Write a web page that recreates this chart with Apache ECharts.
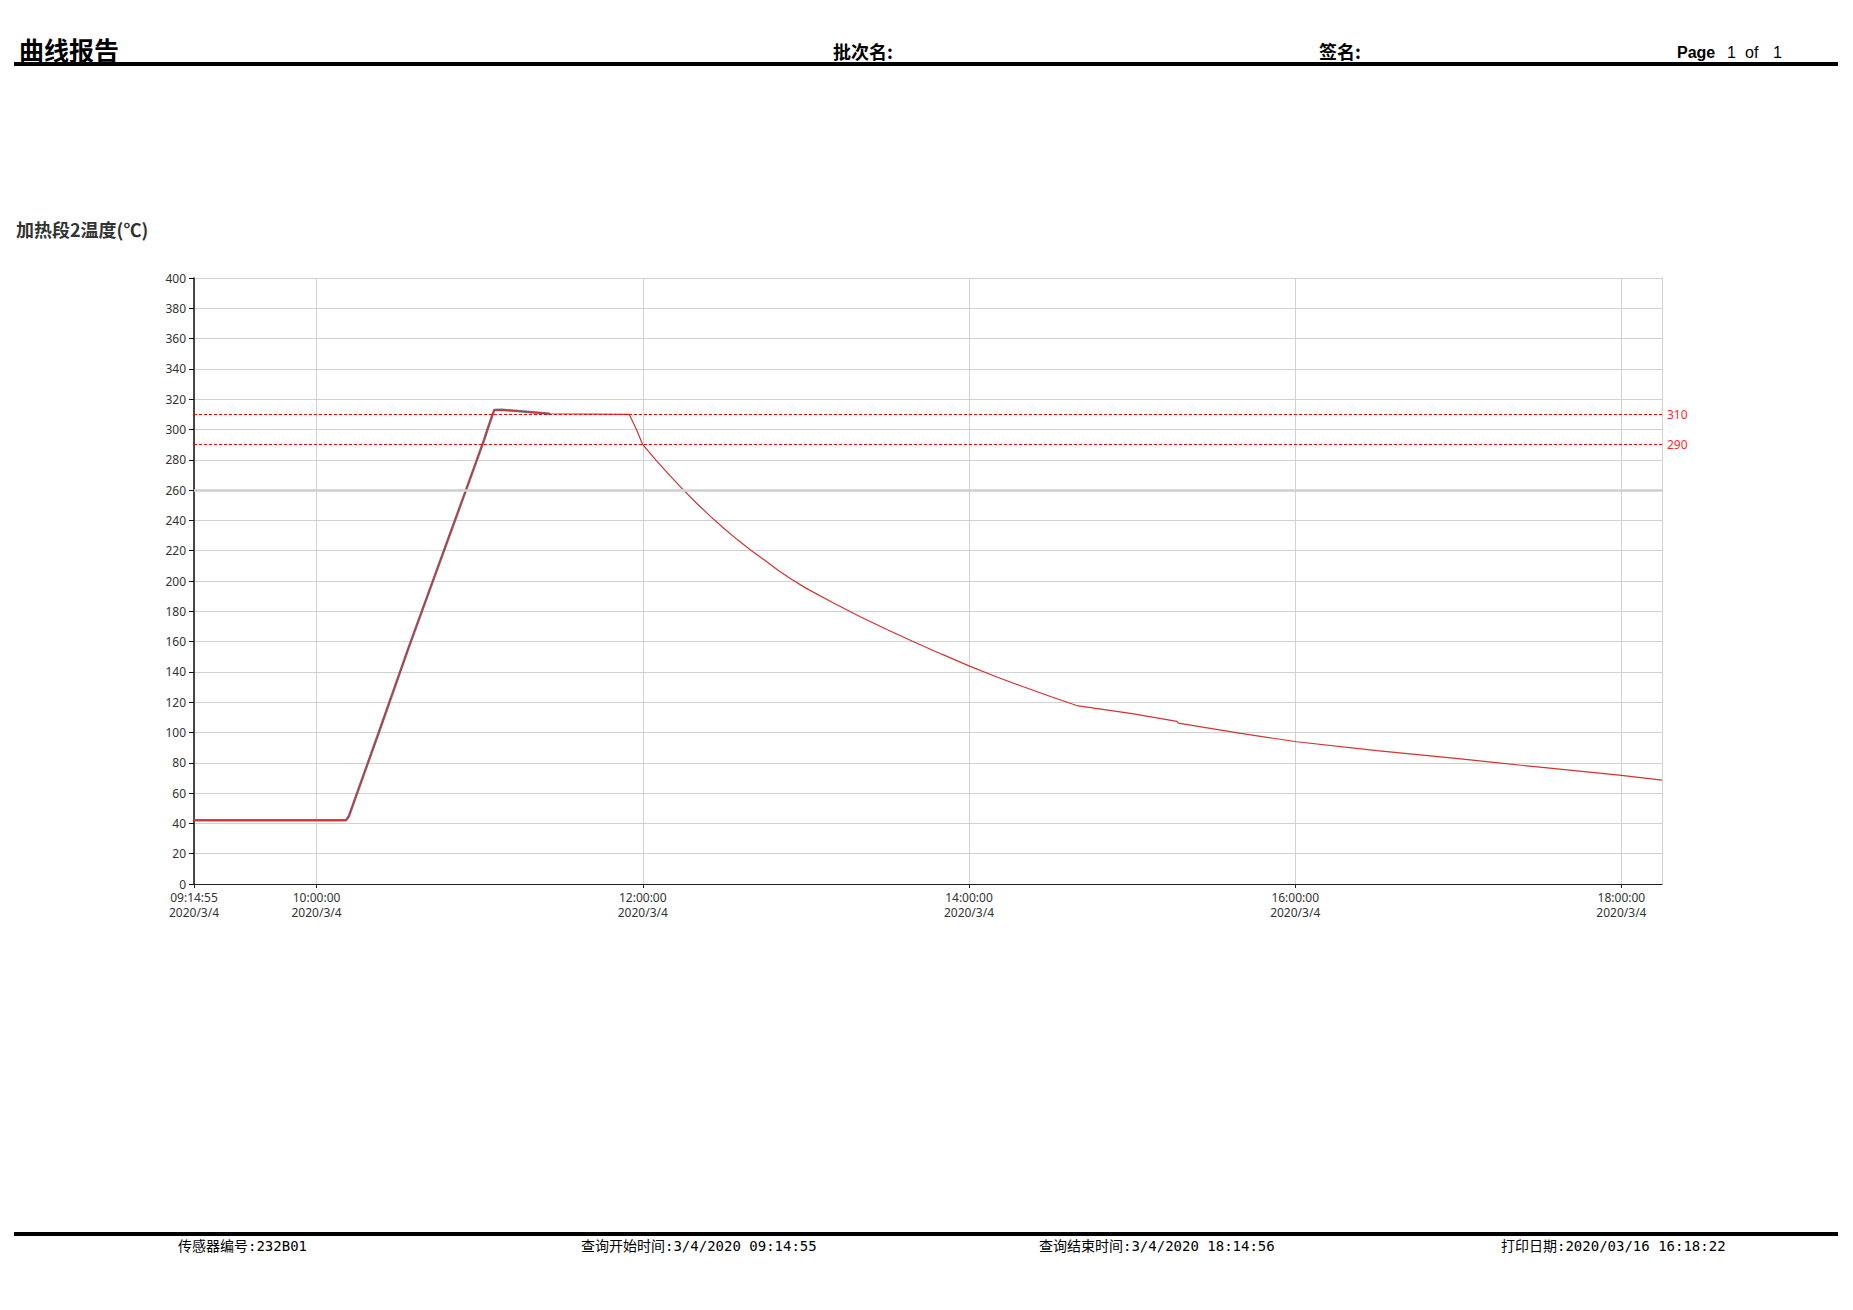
<!DOCTYPE html>
<html><head><meta charset="utf-8">
<script src="https://cdn.jsdelivr.net/npm/echarts@6.0.0/dist/echarts.min.js"></script>
<style>html,body{margin:0;padding:0;background:#fff;}#chart{width:1853px;height:1310px;}</style>
</head><body><div id="chart"></div>
<script>
const chartTitle = '加热段2温度(℃)';
const dateLabel = '2020/3/4';
const axisStart = '09:14:55';
const axisEnd = '18:14:56';
const tickTimes = ['09:14:55', '10:00:00', '12:00:00', '14:00:00', '16:00:00', '18:00:00'];
const yMin = 0, yMax = 400, yStep = 20;
const limitValues = [310, 290];
const emphasisGrid = [260];

const sensorTimes = ['09:14:55','10:10:48','10:11:50','10:22:53','10:33:58','10:54:52','11:01:38','11:02:52','11:05:20','11:08:00','11:15:00','11:25:50','11:55:00','11:57:40','12:00:00','12:05:00','12:10:00','12:15:00','12:20:00','12:25:00','12:30:00','12:35:00','12:40:00','12:45:00','12:50:00','12:55:00','13:00:00','13:10:00','13:20:00','13:30:00','13:40:00','13:50:00','14:00:00','14:10:00','14:20:00','14:30:00','14:39:36','15:00:00','15:16:30','15:17:00','15:40:00','16:00:33','16:30:00','17:00:00','17:30:00','18:00:00','18:14:56'];
const sensorValues = [42,42,44.5,100,156.5,259.5,293.2,300,312.8,313,312,310.4,310,300,290,279.5,269.5,260,251,242.5,234.5,227,220,213.5,206.8,200.8,195.3,185.6,176.4,167.8,159.6,151.7,144,136.8,130.2,123.8,117.8,112.5,107.3,106.2,99.4,93.9,88,82.7,77.1,71.7,68.6];

const greyTimes = ['09:14:55','10:10:48','10:11:50','10:22:53','10:33:58','10:54:52','11:01:38','11:02:52','11:05:20','11:08:00','11:15:00','11:25:50'];
const greyValues = [42,42,44.5,100,156.5,259.5,293.2,300,312.8,313,312,310.4];

const headerTitle = '曲线报告';
const headerBatch = '批次名:';
const headerSign = '签名:';
const pageWord = 'Page';
const pageParts = ['1', 'of', '1'];
const footerTexts = ['传感器编号:232B01', '查询开始时间:3/4/2020 09:14:55', '查询结束时间:3/4/2020 18:14:56', '打印日期:2020/03/16 16:18:22'];

function ts(t) { const p = t.split(':').map(Number); return (p[0] * 3600 + p[1] * 60 + p[2]) * 1000; }
function pad(n) { return (n < 10 ? '0' : '') + n; }
function fmt(v) {
  const s = Math.round(v / 1000);
  return pad(Math.floor(s / 3600)) + ':' + pad(Math.floor(s / 60) % 60) + ':' + pad(s % 60) + '\n' + dateLabel;
}

const tickVals = tickTimes.map(ts);
const sensorData = sensorTimes.map((t, i) => [ts(t), sensorValues[i]]);
const greyData = greyTimes.map((t, i) => [ts(t), greyValues[i]]);

const CJK = '"Noto Sans CJK SC", "Noto Sans", sans-serif';
const MONO = '"DejaVu Sans Mono", "Noto Sans CJK SC", monospace';
const footerX = [178, 581, 1039, 1501];
const pageX = [1727, 1745, 1773];

const chart = echarts.init(document.getElementById('chart'), null, { renderer: 'svg' });
chart.setOption({
  animation: false,
  backgroundColor: '#fff',
  title: {
    text: chartTitle, left: 11, top: 215,
    textStyle: { fontSize: 18, fontWeight: 'bold', color: '#333', fontFamily: CJK }
  },
  grid: { left: 194, top: 278, width: 1468, height: 606, containLabel: false, outerBoundsMode: 'none' },
  xAxis: {
    type: 'value', min: ts(axisStart), max: ts(axisEnd),
    axisLine: { show: true, lineStyle: { color: '#222', width: 1 } },
    axisTick: { show: true, customValues: tickVals, length: 4, lineStyle: { color: '#222' } },
    axisLabel: { customValues: tickVals, formatter: fmt, color: '#333', fontSize: 12, lineHeight: 15, margin: 6, fontFamily: '"Noto Sans", sans-serif', hideOverlap: false, showMinLabel: true, showMaxLabel: true },
    splitLine: { show: true, lineStyle: { color: '#d2d2d2', width: 1 } }
  },
  yAxis: [{
    type: 'value', min: yMin, max: yMax, interval: yStep,
    axisLine: { show: true, lineStyle: { color: '#111', width: 1.5 } },
    axisTick: { show: true, length: 5, lineStyle: { color: '#111' } },
    axisLabel: { color: '#333', fontSize: 12, lineHeight: 12, margin: 8, fontFamily: '"Noto Sans", sans-serif' },
    splitLine: { show: true, lineStyle: { color: '#d2d2d2', width: 1 } }
  }, {
    type: 'value', min: yMin, max: yMax, position: 'right',
    axisLine: { show: true, lineStyle: { color: '#d2d2d2', width: 1 } },
    axisTick: { show: false }, axisLabel: { show: false }, splitLine: { show: false }
  }],
  series: [{
    type: 'line', data: [], z: 1, silent: true,
    markLine: { silent: true, symbol: 'none', label: { show: false },
      lineStyle: { color: '#cfcfcf', width: 2.5, type: 'solid' },
      data: emphasisGrid.map(v => ({ yAxis: v })) }
  }, {
    type: 'line', data: greyData, z: 3, showSymbol: false, symbol: 'none',
    lineStyle: { color: '#6f7486', width: 2.5 }
  }, {
    type: 'line', data: sensorData, z: 4, showSymbol: false, symbol: 'none',
    lineStyle: { color: '#d23232', width: 1.2 },
    markLine: { silent: true, symbol: 'none',
      lineStyle: { color: '#ff0000', width: 1, type: [3, 2] },
      label: { show: true, position: 'end', distance: 5, color: '#ff2a2a', fontSize: 12, fontFamily: '"Noto Sans", sans-serif', formatter: '{c}' },
      data: limitValues.map(v => ({ yAxis: v })) }
  }],
  graphic: [
    { type: 'rect', shape: { x: 14, y: 62, width: 1824, height: 4 }, style: { fill: '#000' } },
    { type: 'rect', shape: { x: 14, y: 1232, width: 1824, height: 4 }, style: { fill: '#000' } },
    { type: 'text', x: 19, y: 49, style: { text: headerTitle, font: 'bold 25px ' + CJK, fill: '#000', textVerticalAlign: 'middle' } },
    { type: 'text', x: 833, y: 51, style: { text: headerBatch, font: 'bold 18px ' + CJK, fill: '#000', textVerticalAlign: 'middle' } },
    { type: 'text', x: 1319, y: 51, style: { text: headerSign, font: 'bold 18px ' + CJK, fill: '#000', textVerticalAlign: 'middle' } },
    { type: 'text', x: 1677, y: 52, style: { text: pageWord, font: 'bold 16px "Liberation Sans", sans-serif', fill: '#000', textVerticalAlign: 'middle' } }
  ].concat(pageParts.map((t, i) => ({ type: 'text', x: pageX[i], y: 52, style: { text: t, font: '16px "Liberation Sans", sans-serif', fill: '#000', textVerticalAlign: 'middle' } })))
   .concat(footerTexts.map((t, i) => ({ type: 'text', x: footerX[i], y: 1246, style: { text: t, font: '14px ' + MONO, fill: '#000', textVerticalAlign: 'middle' } })))
});
</script></body></html>
